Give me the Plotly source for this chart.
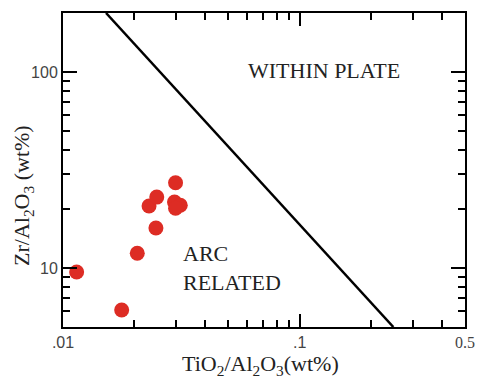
import plotly.graph_objects as go
import numpy as np

# Data
ti_al = [0.01142, 0.0177, 0.0206, 0.0247, 0.0231, 0.0249, 0.0299, 0.0296, 0.0313, 0.0299]
zr_al = [9.54, 6.11, 11.9, 16.0, 20.7, 23.0, 27.2, 21.7, 20.9, 20.2]

# Discrimination boundary (endpoints on the frame)
boundary_x = [0.0152, 0.249]
boundary_y = [200, 5]

x_major = [0.01, 0.1, 0.5]
x_major_text = [".01", ".1", "<span style='font-family:Liberation Serif'>0.5</span>"]
y_major = [10, 100]
y_major_text = ["10", "100"]

fig = go.Figure()
fig.add_trace(go.Scatter(x=boundary_x, y=boundary_y, mode="lines",
                         line=dict(color="black", width=2.5), showlegend=False, hoverinfo="skip"))
fig.add_trace(go.Scatter(x=ti_al, y=zr_al, mode="markers",
                         marker=dict(color="#dd2c24", size=15, line=dict(width=0)),
                         showlegend=False))

serif = "Liberation Serif"
fig.update_layout(
    width=484, height=381,
    margin=dict(l=63, r=9, t=13, b=54),
    paper_bgcolor="white", plot_bgcolor="white",
    xaxis=dict(type="log", range=[np.log10(0.01), np.log10(0.5)],
               showgrid=False, zeroline=False,
               showline=True, linecolor="black", linewidth=2, mirror="ticks",
               ticks="inside", ticklen=13, tickwidth=2, tickcolor="black",
               tickmode="array", tickvals=x_major, ticktext=x_major_text,
               tickfont=dict(family="Liberation Sans", size=16, color="#444"),
               minor=dict(dtick="D1", ticks="inside",
                          ticklen=7, tickwidth=2, tickcolor="black", showgrid=False)),
    yaxis=dict(type="log", range=[np.log10(5), np.log10(200)],
               showgrid=False, zeroline=False,
               showline=True, linecolor="black", linewidth=2, mirror="ticks",
               ticks="inside", ticklen=14, tickwidth=2, tickcolor="black",
               tickmode="array", tickvals=y_major, ticktext=y_major_text,
               tickfont=dict(family="Liberation Sans", size=16, color="#444"),
               minor=dict(dtick="D1", ticks="inside",
                          ticklen=7, tickwidth=2, tickcolor="black", showgrid=False)),
    annotations=[
        dict(text="WITHIN PLATE", x=331, y=71, xanchor="center", yanchor="middle"),
        dict(text="ARC<br>RELATED", x=184, y=268, xanchor="left", yanchor="middle", align="left"),
        dict(text="TiO<sub>2</sub>/Al<sub>2</sub>O<sub>3</sub>(wt%)", x=265, y=365,
             xanchor="center", yanchor="middle"),
        dict(text="Zr/Al<sub>2</sub>O<sub>3</sub> (wt%)", x=22, y=195, textangle=-90,
             xanchor="center", yanchor="middle"),
    ],
)

# convert pixel positions of annotations to paper coordinates
L, R, T, B = 63, 9, 13, 54
pw, ph = 484 - L - R, 381 - T - B
for a in fig.layout.annotations:
    a.x = (a.x - L) / pw
    a.y = 1 - (a.y - T) / ph
    a.xref = "paper"
    a.yref = "paper"
    a.showarrow = False
    a.font = dict(family=serif, size=22, color="#222")

fig.write_html("out.html")
